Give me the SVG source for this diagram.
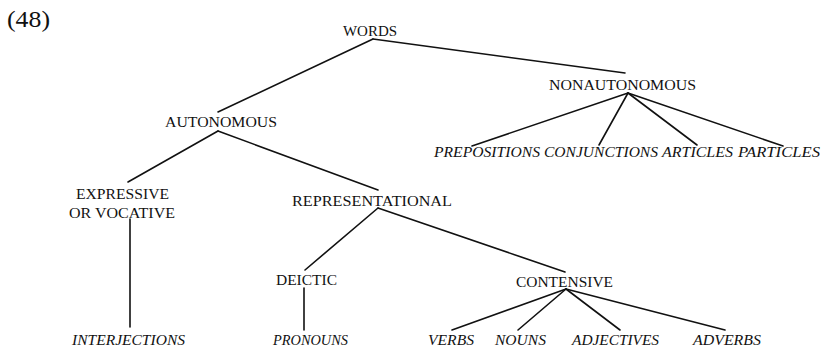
<svg xmlns="http://www.w3.org/2000/svg" width="823" height="351" viewBox="0 0 823 351">
<style>
  text { font-family: "Liberation Serif", "Times New Roman", serif; font-size: 15.5px; fill: #111; }
  .it { font-style: italic; }
  .num { font-size: 24px; }
  line { stroke: #111; stroke-width: 1.6; stroke-linecap: round; }
</style>
<rect width="823" height="351" fill="#fff"/>
<text class="num" x="7" y="27" textLength="43" lengthAdjust="spacingAndGlyphs">(48)</text>
<g id="connectors">
  <line x1="373" y1="39" x2="218" y2="112"/>
  <line x1="373" y1="39" x2="625" y2="73"/>
  <line x1="218" y1="131" x2="128" y2="182"/>
  <line x1="218" y1="131" x2="378" y2="190"/>
  <line x1="628" y1="93" x2="472" y2="146"/>
  <line x1="628" y1="93" x2="599" y2="145"/>
  <line x1="628" y1="93" x2="697" y2="145"/>
  <line x1="628" y1="93" x2="783" y2="146"/>
  <line x1="130" y1="219" x2="130" y2="327"/>
  <line x1="378" y1="208" x2="305" y2="270"/>
  <line x1="378" y1="208" x2="565" y2="272"/>
  <line x1="304" y1="288" x2="304" y2="330"/>
  <line x1="566" y1="289" x2="452" y2="330"/>
  <line x1="566" y1="289" x2="518" y2="330"/>
  <line x1="566" y1="289" x2="620" y2="330"/>
  <line x1="566" y1="289" x2="725" y2="330"/>
</g>
<g id="words"><text x="343" y="36" textLength="54" lengthAdjust="spacingAndGlyphs">WORDS</text></g>
<g id="autonomous"><text x="165" y="127" textLength="112" lengthAdjust="spacingAndGlyphs">AUTONOMOUS</text></g>
<g id="nonautonomous"><text x="549" y="90" textLength="147" lengthAdjust="spacingAndGlyphs">NONAUTONOMOUS</text></g>
<g id="prepositions"><text class="it" x="434" y="157" textLength="106" lengthAdjust="spacingAndGlyphs">PREPOSITIONS</text></g>
<g id="conjunctions"><text class="it" x="544" y="157" textLength="114" lengthAdjust="spacingAndGlyphs">CONJUNCTIONS</text></g>
<g id="articles"><text class="it" x="662" y="157" textLength="71" lengthAdjust="spacingAndGlyphs">ARTICLES</text></g>
<g id="particles"><text class="it" x="738" y="157" textLength="82" lengthAdjust="spacingAndGlyphs">PARTICLES</text></g>
<g id="expressive">
  <text x="76" y="199" textLength="93" lengthAdjust="spacingAndGlyphs">EXPRESSIVE</text>
  <text x="69" y="218" textLength="106" lengthAdjust="spacingAndGlyphs">OR VOCATIVE</text>
</g>
<g id="representational"><text x="292" y="206" textLength="160" lengthAdjust="spacingAndGlyphs">REPRESENTATIONAL</text></g>
<g id="deictic"><text x="276" y="285" textLength="61" lengthAdjust="spacingAndGlyphs">DEICTIC</text></g>
<g id="contensive"><text x="516" y="287" textLength="97" lengthAdjust="spacingAndGlyphs">CONTENSIVE</text></g>
<g id="interjections"><text class="it" x="72" y="345" textLength="113" lengthAdjust="spacingAndGlyphs">INTERJECTIONS</text></g>
<g id="pronouns"><text class="it" x="273" y="345" textLength="75" lengthAdjust="spacingAndGlyphs">PRONOUNS</text></g>
<g id="verbs"><text class="it" x="428" y="345" textLength="46" lengthAdjust="spacingAndGlyphs">VERBS</text></g>
<g id="nouns"><text class="it" x="495" y="345" textLength="51" lengthAdjust="spacingAndGlyphs">NOUNS</text></g>
<g id="adjectives"><text class="it" x="572" y="345" textLength="87" lengthAdjust="spacingAndGlyphs">ADJECTIVES</text></g>
<g id="adverbs"><text class="it" x="693" y="345" textLength="68" lengthAdjust="spacingAndGlyphs">ADVERBS</text></g>
</svg>
